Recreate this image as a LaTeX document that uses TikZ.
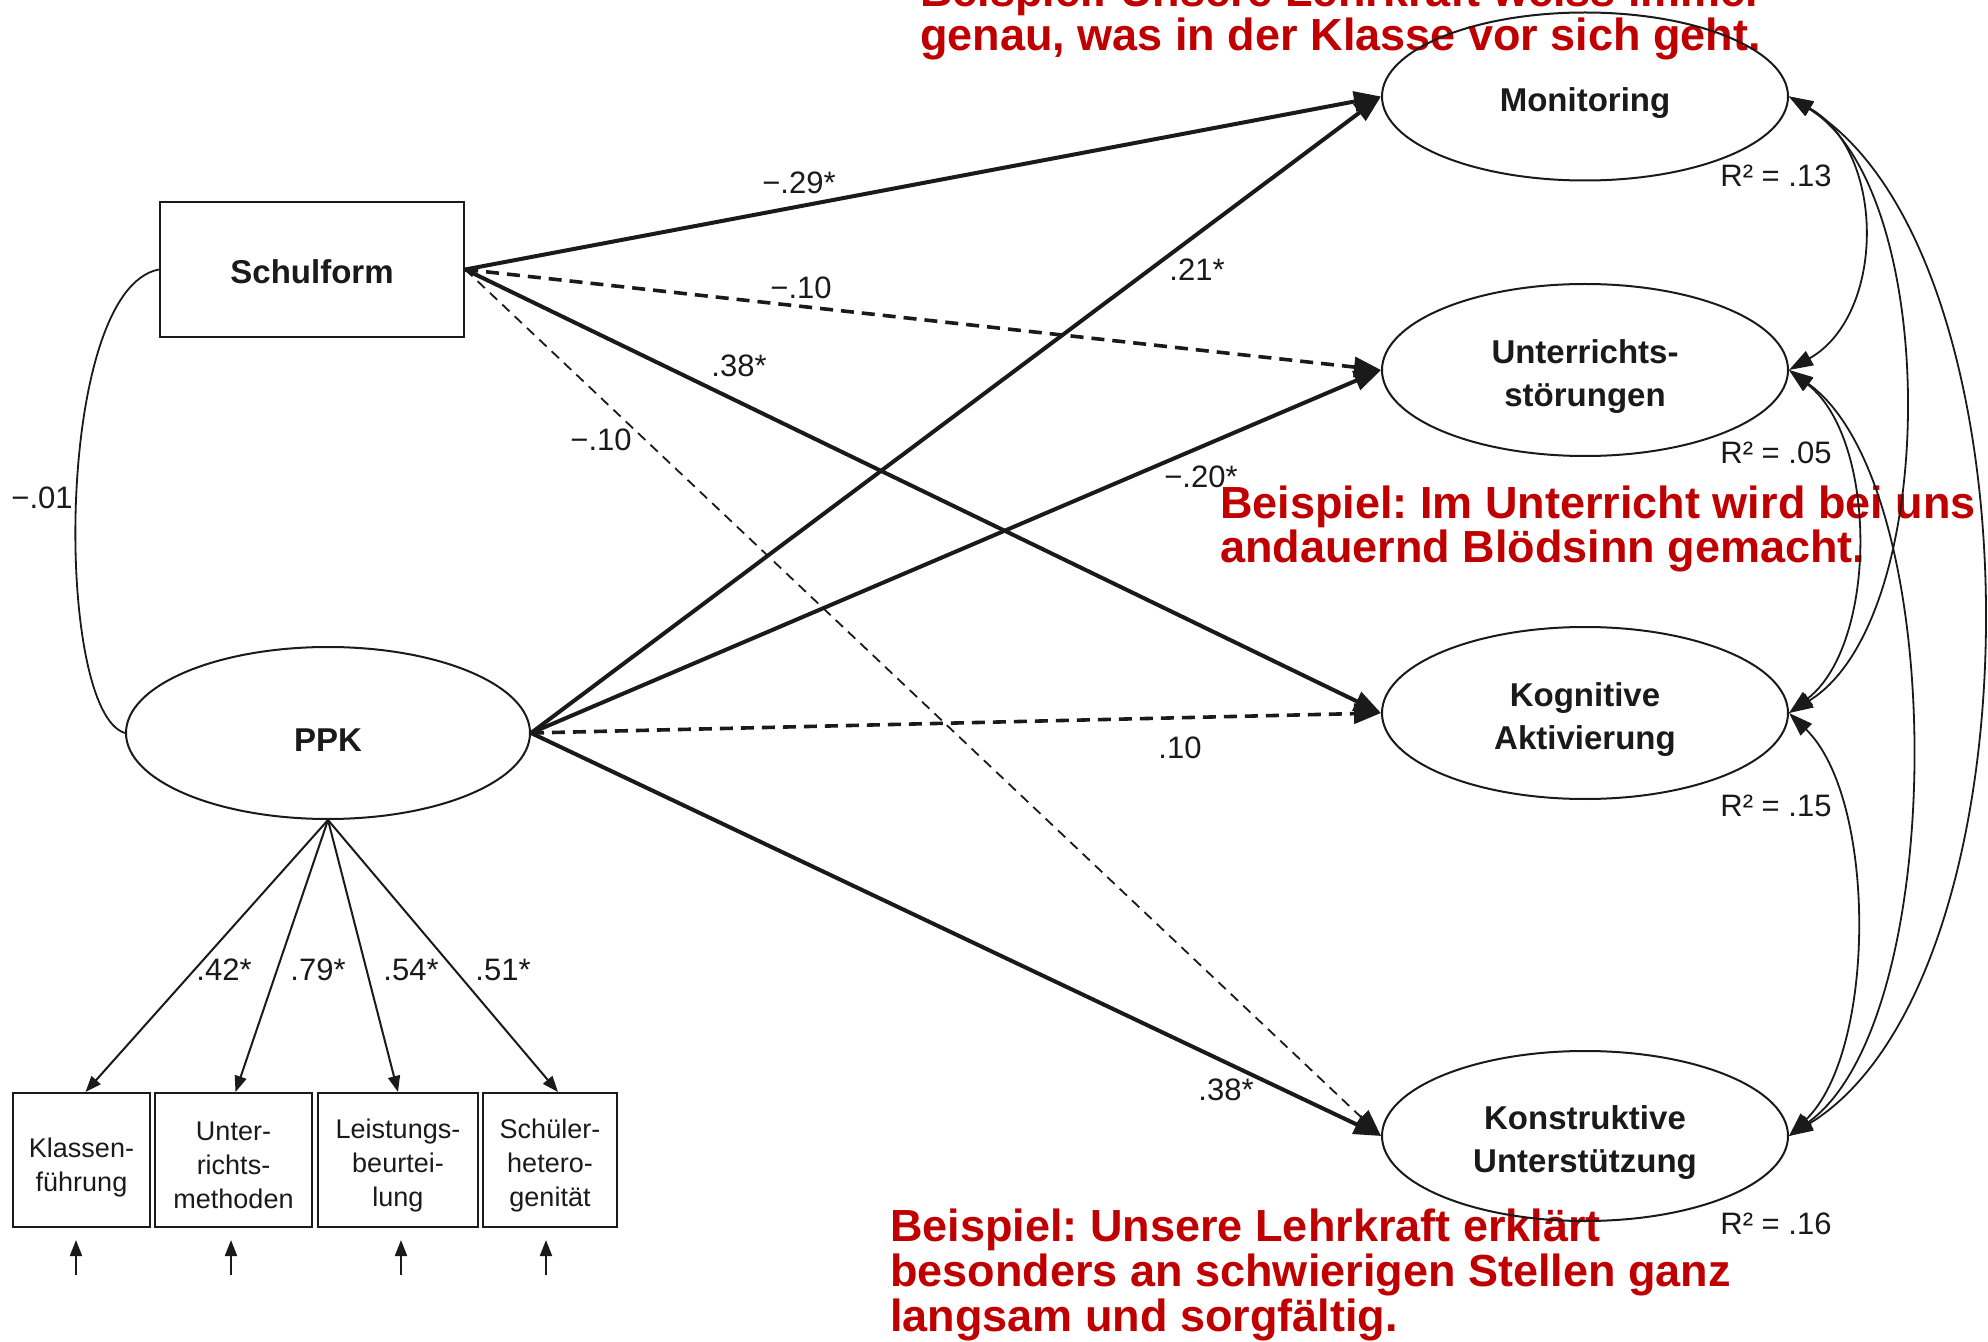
\documentclass[tikz,border=0pt]{standalone}
\usepackage{fontspec}
\setmainfont{Liberation Sans}
\usetikzlibrary{arrows.meta,shapes.geometric,calc}
\definecolor{notered}{HTML}{C00000}
\definecolor{ink}{HTML}{1A1A1A}
\frenchspacing
\newcommand\tgap[1]{\rule{0pt}{#1}}
\begin{document}
\begin{tikzpicture}[x=0.5pt,y=-0.5pt,
  latent/.style={draw=ink,ellipse,line width=1pt,minimum width=203pt,minimum height=84pt,inner sep=0pt,align=center,text=ink,font=\bfseries\fontsize{16.5}{21.5}\selectfont},
  manifest/.style={draw=ink,rectangle,line width=1.2pt,minimum width=152pt,minimum height=67.5pt,inner sep=0pt,text=ink,font=\bfseries\fontsize{16.5}{21.5}\selectfont},
  indbox/.style={draw=ink,rectangle,line width=1pt,minimum height=67pt,inner sep=0pt,align=center,text=ink,font=\fontsize{13.5}{17}\selectfont},
  coef/.style={inner sep=0pt,text=ink,font=\fontsize{15.5}{18}\selectfont},
  rsq/.style={inner sep=0pt,text=ink,font=\fontsize{15.5}{18}\selectfont},
  rednote/.style={inner sep=0pt,anchor=base west,align=left,text=notered,font=\bfseries\fontsize{22.5}{22.3}\selectfont},
  strongpath/.style={draw=ink,line width=2pt,-{Triangle[length=13.5pt,width=10pt]}},
  weakpath/.style={draw=ink,line width=1.8pt,dash pattern=on 6.5pt off 4pt,-{Triangle[length=13.5pt,width=10pt]}},
  thinweak/.style={draw=ink,line width=0.9pt,dash pattern=on 5pt off 3.5pt,-{Triangle[length=13.5pt,width=10pt]}},
  loading/.style={draw=ink,line width=1pt,-{Triangle[length=8pt,width=6pt]}},
  corr/.style={draw=ink,line width=0.9pt,{Triangle[length=12pt,width=8pt]}-{Triangle[length=12pt,width=8pt]}},
  corrplain/.style={draw=ink,line width=0.9pt}
]
\useasboundingbox (0,0) rectangle (1988,1342);
\fill[white] (0,0) rectangle (1988,1342);

% red annotations (drawn first, diagram lies over them); anchor = baseline of last line
\node[rednote] (n1) at (920,51) {Beispiel: Unsere Lehrkraft weiss immer\\genau, was in der Klasse vor sich geht.};
\node[rednote] (n2) at (1220,563) {Beispiel: Im Unterricht wird bei uns\\andauernd Blödsinn gemacht.};
\node[rednote] (n3) at (890,1331) {Beispiel: Unsere Lehrkraft erklärt\\besonders an schwierigen Stellen ganz\\langsam und sorgfältig.};

% nodes
\node[manifest] (schul) at (312,269.5) {\tgap{14.6pt}Schulform};
\node[latent,minimum width=202pt,minimum height=86pt] (ppk) at (328,733) {\tgap{18.4pt}PPK};
\node[latent] (mon) at (1585,96.5) {\tgap{18.4pt}Monitoring};
\node[latent,minimum height=86pt] (stoer) at (1585,370) {\tgap{18.4pt}Unterrichts-\\störungen};
\node[latent,minimum height=86pt] (kog) at (1585,713) {\tgap{18.4pt}Kognitive\\Aktivierung};
\node[latent,minimum height=85pt] (kon) at (1585,1136) {\tgap{18.4pt}Konstruktive\\Unterstützung};

\node[indbox,minimum width=68.5pt] (i1) at (81.5,1160) {\tgap{17.5pt}Klassen-\\führung};
\node[indbox,minimum width=78.5pt] (i2) at (233.5,1160) {\tgap{15pt}Unter-\\richts-\\methoden};
\node[indbox,minimum width=80pt] (i3) at (398,1160) {\tgap{15pt}Leistungs-\\beurtei-\\lung};
\node[indbox,minimum width=67pt] (i4) at (550,1160) {\tgap{15pt}Schüler-\\hetero-\\genität};

% structural paths
\draw[strongpath] (schul.east) -- (mon.west);
\draw[weakpath] (schul.east) -- (stoer.west);
\draw[strongpath] (schul.east) -- (kog.west);
\draw[thinweak] (schul.east) -- (kon.west);
\draw[strongpath] (ppk.east) -- (mon.west);
\draw[strongpath] (ppk.east) -- (stoer.west);
\draw[weakpath] (ppk.east) -- (kog.west);
\draw[strongpath] (ppk.east) -- (kon.west);

% loadings
\draw[loading] (ppk.south) -- ([xshift=2pt]i1.north);
\draw[loading] (ppk.south) -- ([xshift=1pt]i2.north);
\draw[loading] (ppk.south) -- (i3.north);
\draw[loading] (ppk.south) -- ([xshift=4pt]i4.north);

% residual arrows
\coordinate (e1) at (76,1275);  \coordinate (t1) at (76,1240);
\coordinate (e2) at (231,1275); \coordinate (t2) at (231,1240);
\coordinate (e3) at (401,1275); \coordinate (t3) at (401,1240);
\coordinate (e4) at (546,1275); \coordinate (t4) at (546,1240);
\draw[loading] (e1) -- (t1);
\draw[loading] (e2) -- (t2);
\draw[loading] (e3) -- (t3);
\draw[loading] (e4) -- (t4);

% correlation Schulform - PPK
\draw[corrplain] (schul.west) .. controls (54,290) and (54,712) .. (ppk.west);

% residual correlations
\draw[corr] (mon.east) .. controls ($(mon.east)+(97,55)$) and ($(stoer.east)+(97,-55)$) .. (stoer.east);
\draw[corr] (stoer.east) .. controls ($(stoer.east)+(89,69)$) and ($(kog.east)+(89,-69)$) .. (kog.east);
\draw[corr] (kog.east) .. controls ($(kog.east)+(88,85)$) and ($(kon.east)+(88,-85)$) .. (kon.east);
\draw[corr] (mon.east) .. controls ($(mon.east)+(152,93)$) and ($(kog.east)+(152,-93)$) .. (kog.east);
\draw[corr] (stoer.east) .. controls ($(stoer.east)+(161,115)$) and ($(kon.east)+(161,-115)$) .. (kon.east);
\draw[corr] (mon.east) .. controls ($(mon.east)+(256,156)$) and ($(kon.east)+(256,-156)$) .. (kon.east);

% coefficients
\node[coef] (c1) at (799,183) {−.29*};
\node[coef] (c2) at (801,288) {−.10};
\node[coef] (c3) at (739,366) {.38*};
\node[coef] (c4) at (601,440) {−.10};
\node[coef] (c5) at (1197,270) {.21*};
\node[coef] (c6) at (1201,477) {−.20*};
\node[coef] (c7) at (1180,748) {.10};
\node[coef] (c8) at (1226,1090) {.38*};
\node[coef] (c9) at (42,498) {−.01};
\node[coef] (l1) at (224,970) {.42*};
\node[coef] (l2) at (318,970) {.79*};
\node[coef] (l3) at (411,970) {.54*};
\node[coef] (l4) at (503,970) {.51*};

% R squared
\node[rsq] (r1) at (1776,176) {R² = .13};
\node[rsq] (r2) at (1776,453) {R² = .05};
\node[rsq] (r3) at (1776,806) {R² = .15};
\node[rsq] (r4) at (1776,1224) {R² = .16};
\end{tikzpicture}
\end{document}
